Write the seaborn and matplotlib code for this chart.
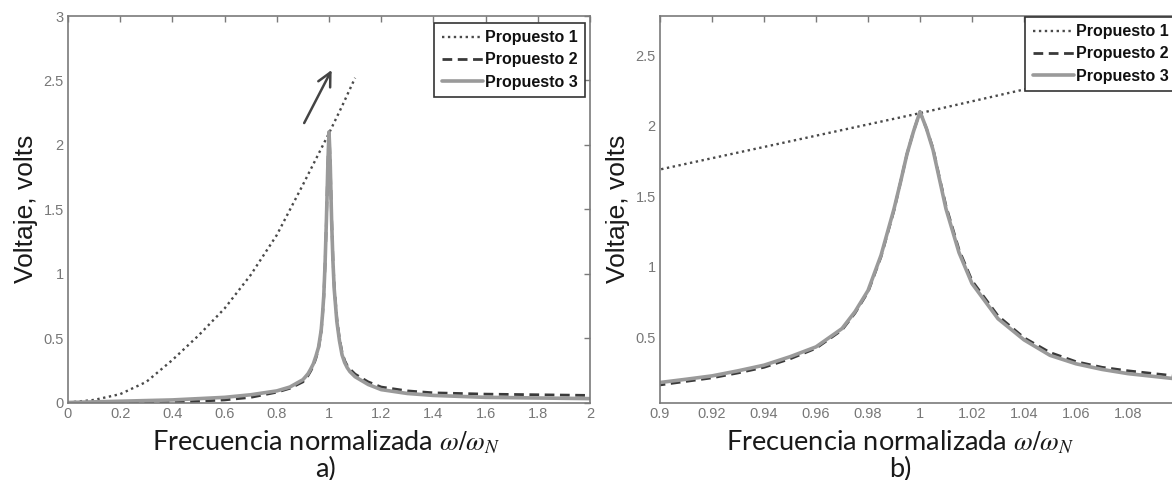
import numpy as np
import pandas as pd
import matplotlib
matplotlib.use("Agg")
import matplotlib.pyplot as plt
import seaborn as sns

# ---------------- data ----------------
freq_p1 = [0.0, 0.1, 0.2, 0.3, 0.4, 0.5, 0.6, 0.7, 0.8, 0.9, 0.95, 1.0, 1.05, 1.1]
volt_p1 = [0.0, 0.02, 0.065, 0.16, 0.33, 0.52, 0.73, 0.99, 1.30, 1.69, 1.89, 2.09, 2.30, 2.52]

freq_res = [0.0, 0.2, 0.4, 0.6, 0.7, 0.8, 0.85, 0.9, 0.91, 0.92, 0.93, 0.94, 0.95,
            0.96, 0.97, 0.975, 0.98, 0.985, 0.99, 0.9925, 0.995, 0.9975, 1.0,
            1.0025, 1.005, 1.0075, 1.01, 1.015,
            1.02, 1.03, 1.04, 1.05, 1.06, 1.07, 1.08, 1.09, 1.1, 1.15, 1.2, 1.3,
            1.4, 1.6, 1.8, 2.0]
volt_p2 = [0.0, 0.0, 0.0, 0.02, 0.04, 0.08, 0.11, 0.16, 0.185, 0.21, 0.245, 0.285, 0.345,
           0.42, 0.55, 0.67, 0.82, 1.07, 1.40, 1.60, 1.80, 1.96, 2.10,
           1.98, 1.84, 1.63, 1.43, 1.12,
           0.90, 0.65, 0.495, 0.39, 0.325, 0.285, 0.26, 0.24, 0.22, 0.16, 0.12, 0.09,
           0.075, 0.065, 0.06, 0.055]
volt_p3 = [0.0, 0.01, 0.02, 0.04, 0.06, 0.09, 0.12, 0.177, 0.20, 0.224, 0.26, 0.30, 0.36,
           0.43, 0.56, 0.68, 0.83, 1.08, 1.41, 1.60, 1.80, 1.96, 2.10,
           1.98, 1.83, 1.62, 1.41, 1.10,
           0.88, 0.63, 0.48, 0.37, 0.31, 0.27, 0.24, 0.22, 0.20, 0.14, 0.10, 0.07,
           0.055, 0.04, 0.035, 0.03]

series_names = ["Propuesto 1", "Propuesto 2", "Propuesto 3"]

xticks_a = [0, 0.2, 0.4, 0.6, 0.8, 1, 1.2, 1.4, 1.6, 1.8, 2]
xticklabels_a = ["0", "0.2", "0.4", "0.6", "0.8", "1", "1.2", "1.4", "1.6", "1.8", "2"]
yticks_a = [0, 0.5, 1, 1.5, 2, 2.5, 3]
yticklabels_a = ["0", "0.5", "1", "1.5", "2", "2.5", "3"]

xticks_b = [0.9, 0.92, 0.94, 0.96, 0.98, 1, 1.02, 1.04, 1.06, 1.08]
xticklabels_b = ["0.9", "0.92", "0.94", "0.96", "0.98", "1", "1.02", "1.04", "1.06", "1.08"]
yticks_b = [0.5, 1, 1.5, 2, 2.5]
yticklabels_b = ["0.5", "1", "1.5", "2", "2.5"]

# ---------------- style ----------------
sns.set_style("white")
plt.rcParams["font.family"] = ["Liberation Sans", "DejaVu Sans"]
plt.rcParams["mathtext.fontset"] = "stix"

df1 = pd.DataFrame({"f": freq_p1, "v": volt_p1})
dfr = pd.DataFrame({"f": freq_res, "v2": volt_p2, "v3": volt_p3})

fig = plt.figure(figsize=(11.72, 4.8), dpi=100)
ax_a = fig.add_axes([68 / 1172, 1 - 402.5 / 480, 522 / 1172, (402.5 - 16) / 480])
ax_b = fig.add_axes([660 / 1172, 1 - 402.5 / 480, 520 / 1172, (402.5 - 16) / 480])

c1, c2, c3 = "#4a4a4a", "#3a3a3a", "#9a9a9a"
spine_c = "#7a7a7a"
tick_c = "#777777"

for ax in (ax_a, ax_b):
    sns.lineplot(data=df1, x="f", y="v", ax=ax, color=c1, lw=1.7,
                 estimator=None, sort=False, label=series_names[0])
    ax.lines[-1].set_dashes((1.0, 1.5))
    sns.lineplot(data=dfr, x="f", y="v2", ax=ax, color=c2, lw=2.0,
                 estimator=None, sort=False, label=series_names[1])
    ax.lines[-1].set_dashes((3.5, 2.0))
    sns.lineplot(data=dfr, x="f", y="v3", ax=ax, color=c3, lw=2.6,
                 estimator=None, sort=False, label=series_names[2])
    for sp in ax.spines.values():
        sp.set_color(spine_c)
        sp.set_linewidth(1.2)
        sp.set_visible(True)
    ax.tick_params(direction="in", length=4, width=1, color=spine_c,
                   top=True, right=True, labelsize=10.5, labelcolor=tick_c, pad=3)
    ax.set_xlabel("")
    ax.set_ylabel("Voltaje, volts", fontsize=19, color="#1a1a1a", labelpad=4)

leg_kw = dict(prop={"size": 11.5, "weight": "bold"}, frameon=True, fancybox=False,
              framealpha=1, edgecolor="#333333", handlelength=2.6,
              handletextpad=0.12, borderpad=0.45, labelspacing=0.45)
leg_a = ax_a.legend(loc="upper right", bbox_to_anchor=(585 / 1172, 1 - 23 / 480),
                    bbox_transform=fig.transFigure, borderaxespad=0.0, **leg_kw)
leg_b = ax_b.legend(loc="upper right", bbox_to_anchor=(1176 / 1172, 1 - 17 / 480),
                    bbox_transform=fig.transFigure, borderaxespad=0.0, **leg_kw)
for leg in (leg_a, leg_b):
    leg.get_frame().set_linewidth(1.2)
    for t in leg.get_texts():
        t.set_color("#111111")

ax_a.set_xlim(0, 2)
ax_a.set_ylim(0, 3)
ax_a.set_xticks(xticks_a)
ax_a.set_xticklabels(xticklabels_a)
ax_a.set_yticks(yticks_a)
ax_a.set_yticklabels(yticklabels_a)

ax_b.set_xlim(0.9, 1.1)
ax_b.set_ylim(0.035, 2.78)
ax_b.set_xticks(xticks_b)
ax_b.set_xticklabels(xticklabels_b)
ax_b.set_yticks(yticks_b)
ax_b.set_yticklabels(yticklabels_b)

ax_a.annotate("", xy=(1.015, 2.6), xytext=(0.9, 2.15),
              arrowprops=dict(arrowstyle="->", color="#444444", lw=1.8,
                              mutation_scale=24))

xlab = "Frecuencia normalizada $\\omega/\\omega_N$"
for xc, tag in ((326 / 1172, "a)"), (900 / 1172, "b)")):
    fig.text(xc, 1 - 442 / 480, xlab, ha="center", va="center", fontsize=19.5,
             family=["Lato", "DejaVu Sans"], color="#1a1a1a")
    fig.text(xc, 1 - 469 / 480, tag, ha="center", va="center", fontsize=19.5,
             family=["Lato", "DejaVu Sans"], color="#1a1a1a")

fig.savefig("out.png", dpi=100, facecolor="white")
